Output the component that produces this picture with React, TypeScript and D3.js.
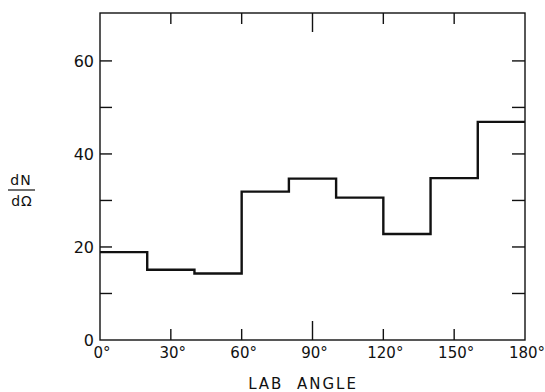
import React from "react";
import * as d3 from "d3";

const binEdges = [0, 20, 40, 60, 80, 100, 120, 140, 160, 180];
const binValues = [18.9, 15.1, 14.3, 31.9, 34.7, 30.6, 22.8, 34.8, 46.9];
const xTickValues = [0, 30, 60, 90, 120, 150, 180];
const xTickLabels = ["0°", "30°", "60°", "90°", "120°", "150°", "180°"];
const yTickValues = [10, 20, 30, 40, 50, 60];
const yLabelValues = [0, 20, 40, 60];

const W = 545, H = 392;
const M = { left: 100, right: 20, top: 13, bottom: 52 };

export default function App() {
  const x = d3.scaleLinear().domain([0, 180]).range([M.left, W - M.right]);
  const y = d3.scaleLinear().domain([0, 70.3]).range([H - M.bottom, M.top]);
  const pts: [number, number][] = [];
  binValues.forEach((v, i) => {
    pts.push([binEdges[i], v]);
    pts.push([binEdges[i + 1], v]);
  });
  const line = d3.line<[number, number]>().x(d => x(d[0])).y(d => y(d[1]));
  const font = "'DejaVu Sans', Verdana, sans-serif";
  const x0 = x(0), x1 = x(180), y0 = y(0), y1 = y(70.3);
  return (
    <svg width={W} height={H} style={{ position: "absolute", left: 0, top: 0, background: "#fff" }}>
      <g stroke="#111" fill="none">
        <rect x={x0} y={y1} width={x1 - x0} height={y0 - y1} strokeWidth={1.4} />
        {xTickValues.slice(1, -1).map(t => {
          const len = t === 90 ? 19 : 11;
          return (
            <g key={t}>
              <line x1={x(t)} x2={x(t)} y1={y0} y2={y0 - len} strokeWidth={1.4} />
              <line x1={x(t)} x2={x(t)} y1={y1} y2={y1 + len} strokeWidth={1.4} />
            </g>
          );
        })}
        {yTickValues.map(t => (
          <g key={t}>
            <line x1={x0} x2={x0 + 12} y1={y(t)} y2={y(t)} strokeWidth={1.4} />
            <line x1={x1} x2={x1 - 13} y1={y(t)} y2={y(t)} strokeWidth={1.4} />
          </g>
        ))}
        <path d={line(pts) || ""} strokeWidth={2.4} />
      </g>
      <g fontFamily={font} fontSize={15} fill="#111">
        {yLabelValues.map(t => (
          <text key={t} x={x0 - 6} y={y(t)} dy="0.36em" textAnchor="end" fontSize={16}>{t}</text>
        ))}
        {xTickValues.map((t, i) => (
          <text key={t} x={x(t) + 2} y={y0 + 18} textAnchor="middle">{xTickLabels[i]}</text>
        ))}
        <text x={303} y={389} textAnchor="middle" fontSize={15} letterSpacing={2} style={{ whiteSpace: "pre" }}>LAB  ANGLE</text>
        <text x={21} y={185} textAnchor="middle" fontSize={14} letterSpacing={1}>dN</text>
        <line x1={8} x2={35} y1={190} y2={190} stroke="#111" strokeWidth={1.2} />
        <text x={22} y={206} textAnchor="middle" fontSize={14} letterSpacing={1}>dΩ</text>
      </g>
    </svg>
  );
}
